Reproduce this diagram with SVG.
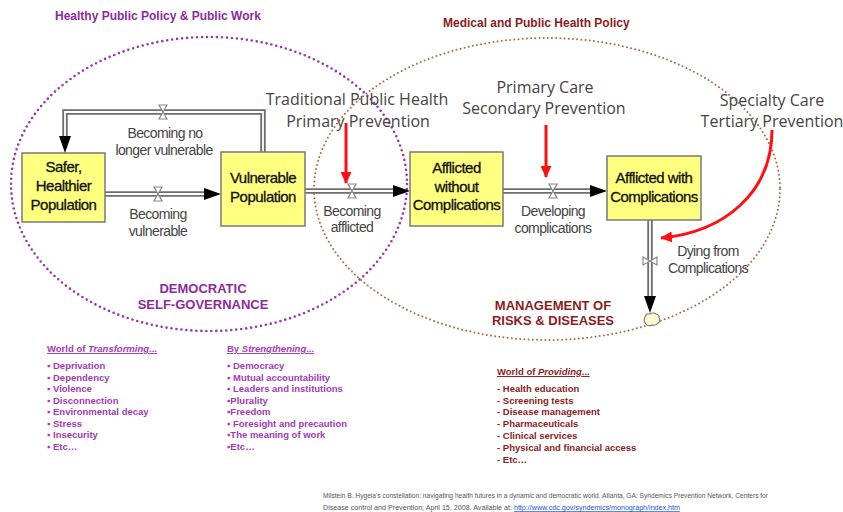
<svg xmlns="http://www.w3.org/2000/svg" width="843" height="512" viewBox="0 0 843 512">
<style>
.bg{fill:#fff}
.pe{fill:none;stroke:#9a35aa;stroke-width:2.6;stroke-linecap:round;stroke-dasharray:0 5}
.be{fill:none;stroke:#b0673a;stroke-width:2;stroke-linecap:round;stroke-dasharray:0 4.2}
.box{fill:#ffff80;stroke:#7a7a7a;stroke-width:1.5}
.bt{font-family:"Liberation Sans",Arial,sans-serif;font-size:15px;letter-spacing:-0.5px;fill:#111;stroke:#111;stroke-width:0.3;text-anchor:middle}
.ft{font-family:"Liberation Sans",Arial,sans-serif;font-size:14px;letter-spacing:-0.6px;fill:#444;text-anchor:middle}
.big{font-family:"Open Sans","Liberation Sans",sans-serif;font-size:16px;fill:#444;text-anchor:middle}
.po{fill:none;stroke:#6e6e6e;stroke-width:5.5}
.pi{fill:none;stroke:#fff;stroke-width:1.8}
.red{fill:none;stroke:#ff1010;stroke-width:3}
.ttl{font-family:"Liberation Sans",Arial,sans-serif;font-size:12px;font-weight:bold}
.pur{fill:#8e2a9e}
.drd{fill:#8b1c1c}
.cap{font-family:"Liberation Sans",Arial,sans-serif;font-size:13px;font-weight:bold;text-anchor:middle}
.li{font-family:"Liberation Sans",Arial,sans-serif;font-size:9.5px;font-weight:bold}
.lp{fill:#a23ab3}
.cit{font-family:"Liberation Sans",Arial,sans-serif;font-size:7px;fill:#555}
</style>
<defs>
<marker id="ah" viewBox="0 0 17 12" refX="17" refY="6" markerWidth="17" markerHeight="12" markerUnits="userSpaceOnUse" orient="auto">
<path d="M0,0 L17,6 L0,12 Z" fill="#000"/>
</marker>
<marker id="rah" viewBox="0 0 12 11" refX="11" refY="5.5" markerWidth="12" markerHeight="11" markerUnits="userSpaceOnUse" orient="auto">
<path d="M0,0 L12,5.5 L0,11 Z" fill="#ff1010"/>
</marker>
<g id="valve"><path d="M-4,-7 H4 L-4,7 H4 Z" fill="#fff" stroke="#888" stroke-width="1.2"/></g>
</defs>
<rect class="bg" x="0" y="0" width="843" height="512"/>

<g id="regions">
<ellipse class="pe" cx="209" cy="184" rx="198" ry="147"/>
<ellipse class="be" cx="547" cy="189" rx="233" ry="151"/>
<text class="ttl pur" x="55" y="20">Healthy Public Policy &amp; Public Work</text>
<text class="ttl drd" x="443" y="27">Medical and Public Health Policy</text>
<text class="cap pur" x="203" y="293">DEMOCRATIC</text>
<text class="cap pur" x="203" y="309">SELF-GOVERNANCE</text>
<text class="cap drd" x="553" y="310">MANAGEMENT OF</text>
<text class="cap drd" x="553" y="325">RISKS &amp; DISEASES</text>
</g>

<g id="connectors">
<g id="flow-no-longer">
<path class="po" d="M263,152 V112 H65 V137"/>
<path class="pi" d="M263,152 V112 H65 V137"/>
<path d="M65,137 V153" stroke="none" marker-end="url(#ah)"/>
<use href="#valve" x="163" y="112"/>
<text class="ft" x="165" y="138">Becoming no</text>
<text class="ft" x="164" y="155">longer vulnerable</text>
</g>
<g id="flow-vulnerable">
<path class="po" d="M105,194 H205"/>
<path class="pi" d="M105,194 H205"/>
<path d="M200,194 H221" stroke="none" marker-end="url(#ah)"/>
<use href="#valve" x="158" y="194"/>
<text class="ft" x="158" y="219">Becoming</text>
<text class="ft" x="158" y="236">vulnerable</text>
</g>
<g id="flow-afflicted">
<path class="po" d="M305,191 H394"/>
<path class="pi" d="M305,191 H394"/>
<path d="M390,191 H410" stroke="none" marker-end="url(#ah)"/>
<use href="#valve" x="352" y="191"/>
<text class="ft" x="352" y="216">Becoming</text>
<text class="ft" x="352" y="232">afflicted</text>
</g>
<g id="flow-complications">
<path class="po" d="M503,191 H591"/>
<path class="pi" d="M503,191 H591"/>
<path d="M587,191 H607" stroke="none" marker-end="url(#ah)"/>
<use href="#valve" x="553" y="191"/>
<text class="ft" x="553" y="216">Developing</text>
<text class="ft" x="553" y="233">complications</text>
</g>
<g id="flow-dying">
<path class="po" d="M650,220 V296"/>
<path class="pi" d="M650,220 V296"/>
<path d="M650,293 V313" stroke="none" marker-end="url(#ah)"/>
<use href="#valve" transform="translate(650,261) rotate(90)"/>
<text class="ft" x="708" y="256">Dying from</text>
<text class="ft" x="708" y="273">Complications</text>
<path d="M645,317 q1,-4 5,-3 q3,-2 6,0 q4,1 3,4 q2,3 -1,5 q-2,3 -6,2 q-4,2 -6,-1 q-3,-3 -1,-7 Z" fill="#fdfbd0" stroke="#777" stroke-width="1.1"/>
</g>
<g id="interventions">
<path class="red" d="M346,123 V183" marker-end="url(#rah)"/>
<path class="red" d="M546,125 V177" marker-end="url(#rah)"/>
<path class="red" d="M772,130 C772,192 725,232 661,238" marker-end="url(#rah)"/>
</g>
</g>

<g id="labels">
<text class="big" x="357" y="105">Traditional Public Health</text>
<text class="big" x="358" y="127">Primary Prevention</text>
<text class="big" x="545" y="93">Primary Care</text>
<text class="big" x="544" y="114">Secondary Prevention</text>
<text class="big" x="772" y="106">Specialty Care</text>
<text class="big" x="772" y="127">Tertiary Prevention</text>
</g>

<g id="safer">
<rect class="box" x="22" y="153" width="83" height="69"/>
<text class="bt" x="63.5" y="172">Safer,</text>
<text class="bt" x="63.5" y="191">Healthier</text>
<text class="bt" x="63.5" y="210">Population</text>
</g>
<g id="vulnerable">
<rect class="box" x="221" y="152" width="84" height="74"/>
<text class="bt" x="263" y="183">Vulnerable</text>
<text class="bt" x="263" y="202">Population</text>
</g>
<g id="afflicted-without">
<rect class="box" x="410" y="152" width="93" height="74"/>
<text class="bt" x="456.5" y="173">Afflicted</text>
<text class="bt" x="456.5" y="192">without</text>
<text class="bt" x="456.5" y="210">Complications</text>
</g>
<g id="afflicted-with">
<rect class="box" x="607" y="156" width="94" height="64"/>
<text class="bt" x="654" y="183">Afflicted with</text>
<text class="bt" x="654" y="202">Complications</text>
</g>

<g id="list-transforming" class="li lp">
<text x="47" y="352" text-decoration="underline">World of <tspan font-style="italic">Transforming</tspan>...</text>
<text x="47" y="369">▪ Deprivation</text>
<text x="47" y="381">▪ Dependency</text>
<text x="47" y="392">▪ Violence</text>
<text x="47" y="404">▪ Disconnection</text>
<text x="47" y="415">▪ Environmental decay</text>
<text x="47" y="427">▪ Stress</text>
<text x="47" y="438">▪ Insecurity</text>
<text x="47" y="450">▪ Etc…</text>
</g>
<g id="list-strengthening" class="li lp">
<text x="227" y="352" text-decoration="underline">By <tspan font-style="italic">Strengthening</tspan>...</text>
<text x="227" y="369">▪ Democracy</text>
<text x="227" y="381">▪ Mutual accountability</text>
<text x="227" y="392">▪ Leaders and institutions</text>
<text x="227" y="404">▪Plurality</text>
<text x="227" y="415">▪Freedom</text>
<text x="227" y="427">▪ Foresight and precaution</text>
<text x="227" y="438">▪The  meaning of work</text>
<text x="227" y="450">▪Etc…</text>
</g>
<g id="list-providing" class="li drd">
<text x="497" y="375" text-decoration="underline">World of <tspan font-style="italic">Providing</tspan>...</text>
<text x="497" y="392">- Health education</text>
<text x="497" y="404">- Screening tests</text>
<text x="497" y="415">- Disease management</text>
<text x="497" y="427">- Pharmaceuticals</text>
<text x="497" y="439">- Clinical services</text>
<text x="497" y="451">- Physical and financial access</text>
<text x="497" y="463">- Etc…</text>
</g>

<g id="citation" class="cit">
<text x="323" y="498" textLength="445" lengthAdjust="spacingAndGlyphs">Milstein B. Hygeia's constellation: navigating health futures in a dynamic and democratic world. Atlanta, GA: Syndemics Prevention Network, Centers for</text>
<text x="323" y="510" textLength="357" lengthAdjust="spacingAndGlyphs">Disease control and Prevention; April 15, 2008.  Available at:  <tspan fill="#2255cc" text-decoration="underline">http://www.cdc.gov/syndemics/monograph/index.htm</tspan></text>
</g>
</svg>
